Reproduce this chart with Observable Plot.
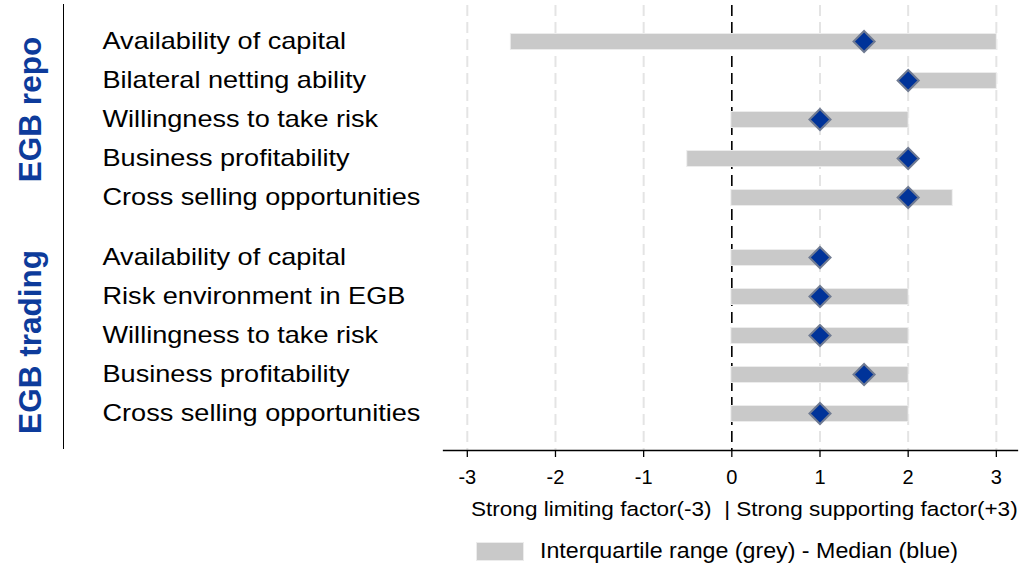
<!DOCTYPE html>
<html>
<head>
<meta charset="utf-8">
<script src="https://cdn.jsdelivr.net/npm/d3@7"></script>
<script src="https://cdn.jsdelivr.net/npm/@observablehq/plot@0.6"></script>
<style>
  body { margin: 0; background: #fff; font-family: "Liberation Sans", Arial, sans-serif; }
  #chart { position: relative; width: 1021px; height: 566px; overflow: hidden; background: #fff; }
  #chart svg { display: block; }
  .sep { position: absolute; left: 63px; top: 4px; width: 1.3px; height: 445px; background: #000; }
  .caption { position: absolute; left: 471px; top: 498.6px; font-size: 20.5px; line-height: 20.5px; white-space: pre; transform: scaleX(1.1); transform-origin: left center; color: #000; }
  .legend { position: absolute; left: 476px; top: 541px; height: 21px; }
  .legend .sw { position: absolute; left: 0; top: 1px; width: 46px; height: 17px; background: #c9c9c9; border: 1px solid #ececec; }
  .legend .lt { position: absolute; left: 64px; top: 0.2px; font-size: 21.4px; line-height: 21.4px; white-space: pre; transform: scaleX(1.085); transform-origin: left center; color: #000; }
</style>
</head>
<body>
<div id="chart"></div>
<script>
// ---- data ----
const groups = ["EGB repo", "EGB trading"];

const repoFactors = ["Availability of capital", "Bilateral netting ability", "Willingness to take risk", "Business profitability", "Cross selling opportunities"];
const repoQ1 = [-2.5, 2, 0, -0.5, 0];
const repoQ3 = [3, 3, 2, 2, 2.5];
const repoMedian = [1.5, 2, 1, 2, 2];

const tradingFactors = ["Availability of capital", "Risk environment in EGB", "Willingness to take risk", "Business profitability", "Cross selling opportunities"];
const tradingQ1 = [0, 0, 0, 0, 0];
const tradingQ3 = [1, 2, 2, 2, 2];
const tradingMedian = [1, 1, 1, 1.5, 1];

const xTicks = [-3, -2, -1, 0, 1, 2, 3];
const axisCaption = "Strong limiting factor(-3)  | Strong supporting factor(+3)";
const legendLabel = "Interquartile range (grey) - Median (blue)";

// ---- styling ----
const FONT = '"Liberation Sans", Arial, sans-serif';
const BLUE = "#003399";
const GROUP_BLUE = "#0d3b9b";

function stretchText(t, sx) {
  let tr = t.getAttribute("transform") || "";
  const xa = t.getAttribute("x");
  if (xa != null && !isNaN(+xa) && +xa !== 0) {
    tr = `translate(${+xa},0) ` + tr;
    t.setAttribute("x", 0);
  }
  t.setAttribute("transform", tr + ` scale(${sx},1)`);
}

function panel(group, factors, q1, q3, med, o) {
  const rows = factors.map((f, i) => ({factor: f, q1: q1[i], q3: q3[i], median: med[i]}));
  const marks = [
    Plot.gridX(xTicks.filter(t => t !== 0), {stroke: "#e4e4e4", strokeOpacity: 1, strokeWidth: 2, strokeDasharray: "11,6"}),
    Plot.ruleX([0], {stroke: "#000", strokeWidth: 1.6, strokeDasharray: "11,6"}),
    Plot.ruleY(rows, {y: "factor", x1: "q1", x2: "q3", stroke: "#ececec", strokeWidth: 17, insetLeft: -1, insetRight: -1}),
    Plot.ruleY(rows, {y: "factor", x1: "q1", x2: "q3", stroke: "#c9c9c9", strokeWidth: 15}),
    Plot.dot(rows, {y: "factor", x: "median", symbol: "diamond2", r: 9.5, fill: BLUE, stroke: "#707b92", strokeWidth: 2}),
    Plot.text(rows, {y: "factor", text: "factor", frameAnchor: "left", dx: -341, textAnchor: "start", fontSize: 24, fill: "#000"}),
    Plot.text([group], {text: d => d, frameAnchor: "left", dx: -413, dy: o.labelDy, rotate: -90, textAnchor: "middle", fontSize: 31.5, fontWeight: "bold", fill: GROUP_BLUE})
  ];
  if (o.axis) {
    marks.push(Plot.frame({anchor: "bottom", stroke: "#000", strokeWidth: 1.3}));
    marks.push(Plot.axisX(xTicks, {tickSize: 7, tickPadding: 12, fontSize: 20, tickFormat: d => String(d), stroke: "#000", strokeWidth: 1.3, label: null}));
  }
  const svg = Plot.plot({
    width: 1021,
    height: o.height,
    marginLeft: 443,
    marginRight: 4,
    marginTop: o.marginTop,
    marginBottom: o.marginBottom,
    style: {fontFamily: FONT, background: "transparent", overflow: "visible"},
    x: {domain: [-3.27, 3.24], axis: null},
    y: {type: "point", domain: factors, padding: o.padding, align: o.align, round: false, axis: null},
    marks
  });
  svg.querySelectorAll("text").forEach(t => {
    if (factors.includes(t.textContent)) stretchText(t, 1.13);
  });
  return svg;
}

const chart = document.getElementById("chart");
chart.appendChild(panel(groups[0], repoFactors, repoQ1, repoQ3, repoMedian,
  {height: 227, marginTop: 5, marginBottom: 0, padding: 0.846, align: 0.545, axis: false, labelDy: -7}));
chart.appendChild(panel(groups[1], tradingFactors, tradingQ1, tradingQ3, tradingMedian,
  {height: 263, marginTop: 0, marginBottom: 40, padding: 0.859, align: 0.448, axis: true, labelDy: 3}));

const sep = document.createElement("div");
sep.className = "sep";
chart.appendChild(sep);

const cap = document.createElement("div");
cap.className = "caption";
cap.textContent = axisCaption;
chart.appendChild(cap);

const leg = document.createElement("div");
leg.className = "legend";
leg.innerHTML = '<div class="sw"></div><div class="lt"></div>';
leg.querySelector(".lt").textContent = legendLabel;
chart.appendChild(leg);
</script>
</body>
</html>
